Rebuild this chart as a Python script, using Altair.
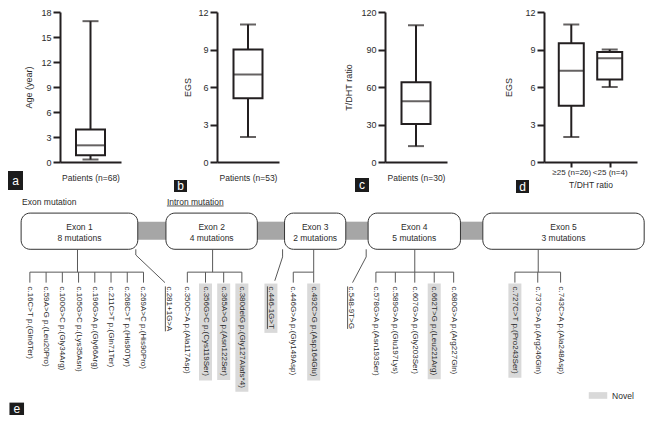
import altair as alt
import pandas as pd

FONT = "Liberation Sans"
INK = "#231f20"
TXT = "#2b2b2b"
LINE = "#595959"
BAR_GRAY = "#a6a6a6"
NOVEL_GRAY = "#d9d9d9"

# ---------------- panel a-d : box-plot summaries ----------------
a_group = ["Patients"]
a_min, a_q1, a_med, a_q3, a_max = [0.3], [0.8], [2.0], [3.9], [16.9]
b_group = ["Patients"]
b_min, b_q1, b_med, b_q3, b_max = [2.0], [5.1], [7.0], [9.0], [11.0]
c_group = ["Patients"]
c_min, c_q1, c_med, c_q3, c_max = [12.7], [30.5], [48.6], [63.9], [109.4]
d_group = ["≥25 (n=26)", "<25 (n=4)"]
d_min = [2.0, 6.0]
d_q1 = [4.5, 6.6]
d_med = [7.3, 8.3]
d_q3 = [9.5, 8.8]
d_max = [11.0, 9.0]

# ---------------- panel e : mutation diagram ----------------
exon_names = ["Exon 1", "Exon 2", "Exon 3", "Exon 4", "Exon 5"]
exon_counts = [8, 4, 2, 5, 3]
exon_mutations = [
    ["c.16C>T p.(Gln6Ter)", "c.59A>G p.(Leu20Pro)", "c.100G>C p.(Gly34Arg)",
     "c.105G>C p.(Lys35Asn)", "c.196G>A p.(Gly66Arg)", "c.211C>T p.(Gln71Ter)",
     "c.268C>T p.(His90Tyr)", "c.269A>C p.(His90Pro)"],
    ["c.350C>A p.(Ala117Asp)", "c.356G>C p.(Cys119Ser)", "c.365A>G p.(Asn122Ser)",
     "c.380delG p.(Gly127Alafs*4)"],
    ["c.446G>A p.(Gly149Asp)", "c.492C>G p.(Asp164Glu)"],
    ["c.578G>A p.(Asn193Ser)", "c.589G>A p.(Glu197Lys)", "c.607G>A p.(Gly203Ser)",
     "c.662T>G p.(Leu221Arg)", "c.680G>A p.(Arg227Gln)"],
    ["c.727C>T p.(Pro243Ser)", "c.737G>A p.(Arg246Gln)", "c.743C>A p.(Ala248Asp)"],
]
exon_novel = [[0] * 8, [0, 1, 1, 1], [0, 1], [0, 0, 0, 1, 0], [1, 0, 0]]
intron_mutations = ["c.281+1G>A", "c.446-1G>T", "c.548-9T>G"]
intron_novel = [0, 1, 0]

# ---------------- helpers ----------------
HELV = {" ": 278, "(": 333, ")": 333, "*": 389, "+": 584, "-": 333, ".": 278, ">": 584,
        "<": 584, "=": 584, "A": 667, "C": 722, "E": 667, "G": 778, "H": 722, "I": 278,
        "L": 556, "N": 722, "P": 667, "S": 667, "T": 611, "a": 556, "c": 500, "d": 556,
        "e": 556, "f": 278, "g": 556, "i": 222, "l": 222, "m": 833, "n": 556, "o": 556,
        "p": 556, "r": 333, "s": 500, "t": 278, "u": 556, "y": 500}


def text_px(s, size):
    return sum(HELV.get(ch, 556) for ch in s) * size / 1000.0


H = 150


def panel(groups, lo, q1, med, q3, hi, *, width, ymax, ystep, ytitle, ytpad, xtitle,
          xlabels, xpad, boxw, letter, lbox, spacer=None):
    df = pd.DataFrame({"g": groups, "lo": lo, "q1": q1, "med": med, "q3": q3, "hi": hi})
    common = dict(title=xtitle, domainColor=INK, domainWidth=2, titleFontSize=8.5,
                  titleFontWeight="normal", titleColor=TXT, titleFont=FONT, labelFont=FONT)
    if xlabels:
        xaxis = alt.Axis(labelAngle=0, labelFontSize=8, labelColor=TXT, labelPadding=1,
                         labelOverlap=False, ticks=True, tickSize=5, tickWidth=2,
                         tickColor=INK, titlePadding=4, **common)
    else:
        xaxis = alt.Axis(labels=False, ticks=False, titlePadding=11, **common)
    X = alt.X("g:N", sort=groups, scale=alt.Scale(type="point", padding=xpad), axis=xaxis)
    ys = alt.Scale(domain=[0, ymax], nice=False, zero=True)
    yaxis = alt.Axis(title=ytitle, values=list(range(0, ymax + 1, ystep)), grid=False,
                     domainColor=INK, domainWidth=2, tickColor=INK, tickWidth=2, tickSize=7,
                     labelFontSize=9, labelColor=TXT, labelPadding=2, labelFont=FONT,
                     titleFontSize=9, titleFontWeight="normal", titleColor=TXT,
                     titlePadding=ytpad, titleFont=FONT)

    def Y(f):
        return alt.Y(f"{f}:Q", scale=ys, axis=yaxis)

    base = alt.Chart(df)
    whisk = base.mark_rule(color=INK, strokeWidth=2).encode(x=X, y=Y("lo"), y2="hi:Q")
    box = base.mark_bar(fill="white", stroke=INK, strokeWidth=2, size=boxw).encode(
        x=X, y=Y("q1"), y2="q3:Q")
    mid = base.mark_tick(color=INK, thickness=2, size=boxw).encode(x=X, y=Y("med"))
    cap_lo = base.mark_tick(color=INK, thickness=2, size=16).encode(x=X, y=Y("lo"))
    cap_hi = base.mark_tick(color=INK, thickness=2, size=16).encode(x=X, y=Y("hi"))

    ldf = pd.DataFrame({"t": [letter]})
    x0, x1, y0, y1 = lbox
    lr = alt.Chart(ldf).mark_rect(color="#1c1c1c").encode(
        x=alt.value(x0), x2=alt.value(x1), y=alt.value(H + y0), y2=alt.value(H + y1))
    lt = alt.Chart(ldf).mark_text(color="white", fontSize=12, font=FONT, baseline="middle",
                                  align="center").encode(
        x=alt.value((x0 + x1) / 2), y=alt.value(H + (y0 + y1) / 2), text="t:N")
    layers = [whisk, box, mid, cap_lo, cap_hi, lr, lt]
    if spacer:
        layers.append(alt.Chart(ldf).mark_rule(opacity=0).encode(
            x=alt.value(-spacer), y=alt.value(H - 1), y2=alt.value(H)))
    return alt.layer(*layers).properties(width=width, height=H)


pa = panel(a_group, a_min, a_q1, a_med, a_q3, a_max, width=61, ymax=18, ystep=3,
           ytitle="Age (year)", ytpad=7, xtitle="Patients (n=68)", xlabels=False, xpad=0.5,
           boxw=29, letter="a", lbox=(-52, -37, 9, 28))
pb = panel(b_group, b_min, b_q1, b_med, b_q3, b_max, width=62, ymax=12, ystep=3,
           ytitle="EGS", ytpad=5, xtitle="Patients (n=53)", xlabels=False, xpad=0.5,
           boxw=29, letter="b", lbox=(-43, -30, 18, 30), spacer=46)
pc = panel(c_group, c_min, c_q1, c_med, c_q3, c_max, width=62, ymax=120, ystep=30,
           ytitle="T/DHT ratio", ytpad=7, xtitle="Patients (n=30)", xlabels=False, xpad=0.5,
           boxw=29, letter="c", lbox=(-30, -16, 16, 30), spacer=56)
pd_ = panel(d_group, d_min, d_q1, d_med, d_q3, d_max, width=93, ymax=12, ystep=3,
            ytitle="EGS", ytpad=11, xtitle="T/DHT ratio", xlabels=True, xpad=0.71,
            boxw=25, letter="d", lbox=(-28, -15, 18, 31), spacer=47)

top = alt.hconcat(pa, pb, pc, pd_, spacing=50)

# ---------------- diagram layout (in reference-pixel units) ----------------
RX = 654
X_ORIGIN = 52          # diagram view starts where panel a's plot area starts
Y0, Y1 = 200, 431
kx = 0.972
DW = (RX - X_ORIGIN) * kx
DH = 220
ky = DH / (Y1 - Y0)
XS = alt.Scale(domain=[X_ORIGIN, RX], nice=False, zero=False)
YS = alt.Scale(domain=[Y0, Y1], nice=False, zero=False, reverse=True)


def XE(f):
    return alt.X(f"{f}:Q", scale=XS, axis=None)


def YE(f):
    return alt.Y(f"{f}:Q", scale=YS, axis=None)


BOX_X = [(12, 132), (161, 255), (283, 346), (369, 464), (487, 653)]
BOX_Y = (219, 257)
BAR_Y = (228, 247)
NAME_Y, CNT_Y = 234, 245
STEM_X = [70, 209, 313, 417, 544]
TREE_X0 = [21, 183, 292, 377, 520]
TREE_STEP = [16.7, 18.7, 21, 20, 23.5]
TREE_Y, DROP_Y, LABEL_Y, BG_Y = 281, 292, 296, 293
INTRON_X = [164, 269, 351.5]
INTRON_PATH = [[(130, 257), (130, 263), (160, 292)],
               [(281, 257), (281, 265), (273, 290)],
               [(367, 257), (367, 265), (353, 292)]]
LABEL_SIZE = 8

boxes = pd.DataFrame({
    "x": [b[0] for b in BOX_X], "x2": [b[1] for b in BOX_X],
    "y": [BOX_Y[0]] * 5, "y2": [BOX_Y[1]] * 5,
    "cx": [(b[0] + b[1]) / 2 for b in BOX_X],
    "ny": [NAME_Y] * 5, "cy": [CNT_Y] * 5,
    "name": exon_names, "cnt": [f"{c} mutations" for c in exon_counts],
})
bars = pd.DataFrame({
    "x": [BOX_X[i][1] for i in range(4)], "x2": [BOX_X[i + 1][0] for i in range(4)],
    "y": [BAR_Y[0]] * 4, "y2": [BAR_Y[1]] * 4,
})

seg, labels, bgs, ulines = [], [], [], []
for i, muts in enumerate(exon_mutations):
    xs = [TREE_X0[i] + TREE_STEP[i] * j for j in range(len(muts))]
    seg.append((STEM_X[i], BOX_Y[1], STEM_X[i], TREE_Y))
    seg.append((xs[0], TREE_Y, xs[-1], TREE_Y))
    for x, m, nv in zip(xs, muts, exon_novel[i]):
        seg.append((x, TREE_Y, x, DROP_Y))
        labels.append((x, LABEL_Y, m))
        if nv:
            bgs.append((x - 6.5 / kx, x + 6.5 / kx, BG_Y,
                        LABEL_Y + (text_px(m, LABEL_SIZE) + 4) / ky))
for x, m, nv, path in zip(INTRON_X, intron_mutations, intron_novel, INTRON_PATH):
    for p, q in zip(path[:-1], path[1:]):
        seg.append((p[0], p[1], q[0], q[1]))
    labels.append((x, LABEL_Y, m))
    ulines.append((x - 3.5 / kx, LABEL_Y, x - 3.5 / kx, LABEL_Y + text_px(m, LABEL_SIZE) / ky))
    if nv:
        bgs.append((x - 6.5 / kx, x + 6.5 / kx, BG_Y,
                    LABEL_Y + (text_px(m, LABEL_SIZE) + 4) / ky))

seg_df = pd.DataFrame(seg, columns=["x", "y", "x2", "y2"])
lab_df = pd.DataFrame(labels, columns=["x", "y", "t"])
bg_df = pd.DataFrame(bgs, columns=["x", "x2", "y", "y2"])
ul_df = pd.DataFrame(ulines, columns=["x", "y", "x2", "y2"])

HDR_Y = 207
hdr_df = pd.DataFrame({"x": [13, 162], "y": [HDR_Y, HDR_Y], "t": ["Exon mutation", "Intron mutation"]})
hdr_ul = pd.DataFrame({"x": [162], "x2": [162 + text_px("Intron mutation", 8.5) / kx],
                       "y": [HDR_Y + 4.5], "y2": [HDR_Y + 4.5]})
leg_box = pd.DataFrame({"x": [596], "x2": [615], "y": [407], "y2": [414]})
leg_txt = pd.DataFrame({"x": [620], "y": [411], "t": ["Novel"]})
e_box = pd.DataFrame({"x": [0], "x2": [15], "y": [418], "y2": [431]})
e_txt = pd.DataFrame({"x": [7.5], "y": [424.5], "t": ["e"]})

d_bars = alt.Chart(bars).mark_rect(color=BAR_GRAY).encode(
    x=XE("x"), x2="x2:Q", y=YE("y"), y2="y2:Q")
d_boxes = alt.Chart(boxes).mark_rect(fill="white", stroke="#333333", strokeWidth=1,
                                     cornerRadius=9).encode(
    x=XE("x"), x2="x2:Q", y=YE("y"), y2="y2:Q")
d_name = alt.Chart(boxes).mark_text(fontSize=8.5, color=TXT, font=FONT, baseline="middle").encode(
    x=XE("cx"), y=YE("ny"), text="name:N")
d_cnt = alt.Chart(boxes).mark_text(fontSize=8.5, color=TXT, font=FONT, baseline="middle").encode(
    x=XE("cx"), y=YE("cy"), text="cnt:N")
d_seg = alt.Chart(seg_df).mark_rule(color=LINE, strokeWidth=1).encode(
    x=XE("x"), x2="x2:Q", y=YE("y"), y2="y2:Q")
d_bg = alt.Chart(bg_df).mark_rect(color=NOVEL_GRAY).encode(
    x=XE("x"), x2="x2:Q", y=YE("y"), y2="y2:Q")
d_lab = alt.Chart(lab_df).mark_text(angle=90, align="left", baseline="middle",
                                    fontSize=LABEL_SIZE, color=TXT, font=FONT).encode(
    x=XE("x"), y=YE("y"), text="t:N")
d_ul = alt.Chart(ul_df).mark_rule(color=TXT, strokeWidth=0.8).encode(
    x=XE("x"), x2="x2:Q", y=YE("y"), y2="y2:Q")
d_hdr = alt.Chart(hdr_df).mark_text(align="left", baseline="middle", fontSize=8.5,
                                    color=TXT, font=FONT).encode(
    x=XE("x"), y=YE("y"), text="t:N")
d_hdr_ul = alt.Chart(hdr_ul).mark_rule(color=TXT, strokeWidth=0.8).encode(
    x=XE("x"), x2="x2:Q", y=YE("y"), y2="y2:Q")
d_leg_box = alt.Chart(leg_box).mark_rect(color=NOVEL_GRAY).encode(
    x=XE("x"), x2="x2:Q", y=YE("y"), y2="y2:Q")
d_leg_txt = alt.Chart(leg_txt).mark_text(align="left", baseline="middle", fontSize=8.5,
                                         color=TXT, font=FONT).encode(
    x=XE("x"), y=YE("y"), text="t:N")
d_e_box = alt.Chart(e_box).mark_rect(color="#1c1c1c").encode(
    x=XE("x"), x2="x2:Q", y=YE("y"), y2="y2:Q")
d_e_txt = alt.Chart(e_txt).mark_text(align="center", baseline="middle", fontSize=12,
                                     color="white", font=FONT).encode(
    x=XE("x"), y=YE("y"), text="t:N")

diagram = alt.layer(d_bars, d_boxes, d_name, d_cnt, d_seg, d_bg, d_lab, d_ul, d_hdr,
                    d_hdr_ul, d_leg_box, d_leg_txt, d_e_box, d_e_txt).properties(
    width=DW, height=DH)

chart = (alt.vconcat(top, diagram, spacing=2)
         .properties(padding=0)
         .configure(font=FONT, background="white")
         .configure_view(strokeWidth=0, stroke=None))

chart.save("out.html", embed_options={"renderer": "svg", "actions": False})
